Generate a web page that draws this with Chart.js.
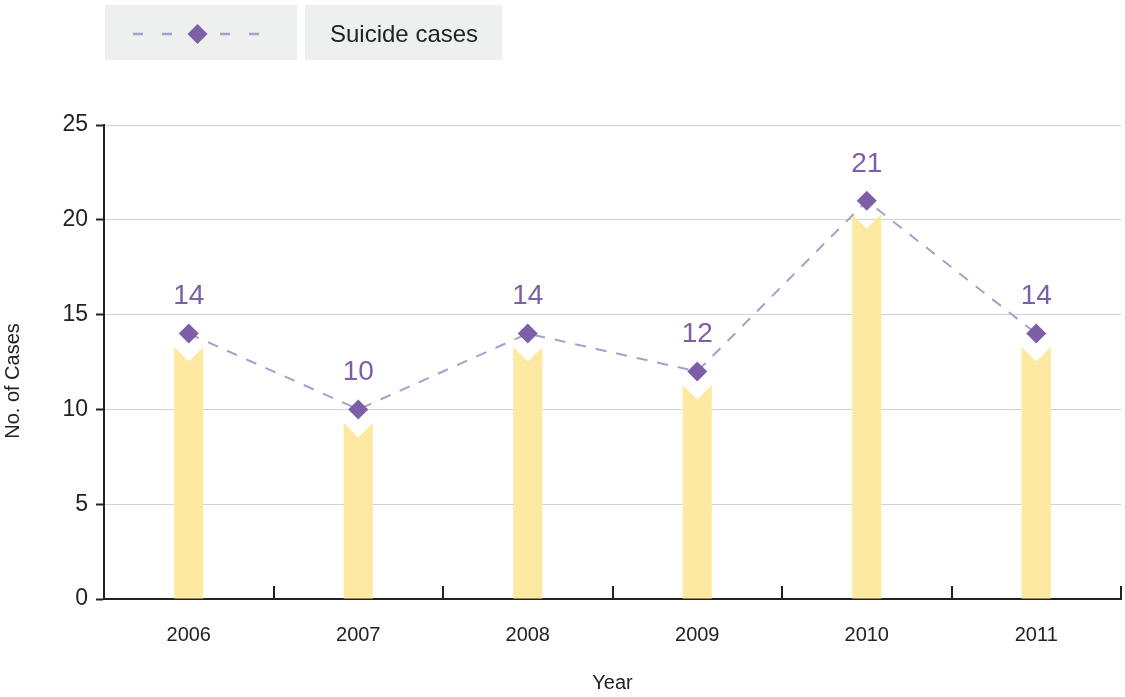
<!DOCTYPE html>
<html>
<head>
<meta charset="utf-8">
<script src="https://cdn.jsdelivr.net/npm/chart.js@4/dist/chart.umd.min.js"></script>
<style>
  html, body { margin: 0; padding: 0; background: #fff; }
  #wrap { position: relative; width: 1125px; height: 697px; }
  #c { position: absolute; left: 0; top: 0; }
  .lg { position: absolute; top: 5px; height: 55px; background: #eef0ef; }
  #lg1 { left: 105px; width: 192px; }
  #lg2 { left: 305px; width: 197px; font-family: "Liberation Sans", Arial, sans-serif; font-size: 24px; color: #222; line-height: 55px; }
  #lg2 span { position: absolute; left: 25px; top: 1px; }
</style>
</head>
<body>
<div id="wrap">
  <canvas id="c" width="1125" height="697"></canvas>
  <div class="lg" id="lg1">
    <svg width="192" height="55" viewBox="0 0 192 55">
      <line x1="28" y1="29" x2="158" y2="29" stroke="#a99fcc" stroke-width="2.5" stroke-dasharray="10,19"/>
      <polygon points="92.5,19 102.5,29 92.5,39 82.5,29" fill="#7d5fa8"/>
    </svg>
  </div>
  <div class="lg" id="lg2"><span>Suicide cases</span></div>
</div>
<script>
const years = ['2006', '2007', '2008', '2009', '2010', '2011'];
const suicideCases = [14, 10, 14, 12, 21, 14];
const yTicks = [0, 5, 10, 15, 20, 25];
const seriesLabel = 'Suicide cases';
const yTitle = 'No. of Cases';
const xTitle = 'Year';

const PURPLE = '#7d5fa8';
const LAVENDER = '#a99fcc';
const YELLOW = '#fde9a2';
const DARK = '#222222';
const FONT = '"Liberation Sans", Arial, sans-serif';

const notchPlugin = {
  id: 'notch',
  beforeDatasetDraw(chart, args) {
    if (args.index !== 1) return;
    const pts = chart.getDatasetMeta(0).data;
    const ctx = chart.ctx;
    ctx.save();
    ctx.beginPath();
    ctx.rect(0, 0, chart.width, chart.height);
    const R = 28;
    pts.forEach(p => {
      ctx.moveTo(p.x, p.y - R);
      ctx.lineTo(p.x + R, p.y);
      ctx.lineTo(p.x, p.y + R);
      ctx.lineTo(p.x - R, p.y);
      ctx.closePath();
    });
    ctx.clip('evenodd');
  },
  afterDatasetDraw(chart, args) {
    if (args.index !== 1) return;
    chart.ctx.restore();
  }
};

const decoPlugin = {
  id: 'deco',
  afterDatasetsDraw(chart) {
    const ctx = chart.ctx;
    const xs = chart.scales.x;
    const area = chart.chartArea;
    ctx.save();
    ctx.strokeStyle = DARK;
    ctx.lineWidth = 2;
    for (let i = 0; i < years.length; i++) {
      const a = xs.getPixelForValue(i), b = xs.getPixelForValue(i + 1);
      const x = Math.round((a + b) / 2);
      ctx.beginPath();
      ctx.moveTo(x, area.bottom);
      ctx.lineTo(x, area.bottom - 13);
      ctx.stroke();
    }
    // data labels
    const pts = chart.getDatasetMeta(0).data;
    ctx.fillStyle = PURPLE;
    ctx.font = '28px ' + FONT;
    ctx.textAlign = 'center';
    ctx.textBaseline = 'middle';
    pts.forEach((p, i) => {
      ctx.fillText(String(suicideCases[i]), p.x, p.y - 37);
    });
    // y axis title
    ctx.fillStyle = DARK;
    ctx.font = '20px ' + FONT;
    ctx.translate(13, area.top + (area.bottom - area.top) / 2 + 19);
    ctx.rotate(-Math.PI / 2);
    ctx.fillText(yTitle, 0, 0);
    ctx.restore();
  }
};

new Chart(document.getElementById('c'), {
  data: {
    labels: years,
    datasets: [
      {
        type: 'line',
        label: seriesLabel,
        data: suicideCases,
        borderColor: LAVENDER,
        borderWidth: 2,
        borderDash: [11, 10],
        pointStyle: 'rectRot',
        pointRadius: 10,
        pointHoverRadius: 10,
        pointBackgroundColor: PURPLE,
        pointBorderColor: PURPLE,
        pointBorderWidth: 0,
        tension: 0,
        fill: false,
        order: 0
      },
      {
        type: 'bar',
        label: seriesLabel,
        data: suicideCases,
        backgroundColor: YELLOW,
        borderWidth: 0,
        barPercentage: 0.172,
        categoryPercentage: 1.0,
        order: 1
      }
    ]
  },
  options: {
    responsive: false,
    animation: false,
    devicePixelRatio: 1,
    layout: { autoPadding: false, padding: { top: 125, right: 4, left: 0, bottom: 0 } },
    plugins: {
      legend: { display: false },
      tooltip: { enabled: false }
    },
    scales: {
      x: {
        type: 'category',
        offset: true,
        grid: { display: false, offset: true },
        border: { display: true, color: DARK, width: 2 },
        ticks: { color: DARK, font: { family: FONT, size: 20 }, padding: 16, maxRotation: 0 },
        title: { display: true, text: xTitle, color: DARK, font: { family: FONT, size: 20 }, padding: { top: 0, bottom: 2 } },
        afterFit(s) { s.height = 98; }
      },
      y: {
        min: 0,
        max: 25,
        afterBuildTicks(s) { s.ticks = yTicks.map(v => ({ value: v })); },
        grid: { color: '#d2d2d2', lineWidth: 1, tickColor: DARK, tickLength: 8, tickWidth: 2 },
        border: { display: true, color: DARK, width: 2 },
        ticks: { color: DARK, font: { family: FONT, size: 23 }, padding: 8 },
        title: { display: false },
        afterFit(s) { s.width = 104; }
      }
    }
  },
  plugins: [notchPlugin, decoPlugin]
});
</script>
</body>
</html>
